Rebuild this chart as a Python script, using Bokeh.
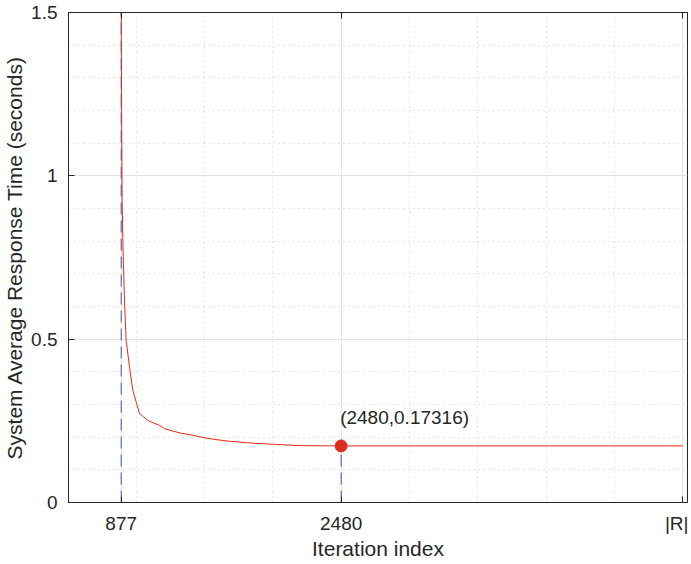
from bokeh.plotting import figure
from bokeh.models import Range1d, FixedTicker, LinearAxis
from bokeh.core.properties import value
from bokeh.embed import file_html
from bokeh.resources import INLINE

# ---- data ----
iters = [877, 880, 884, 890, 901, 913, 938, 962, 1010, 1040, 1071, 1110, 1156, 1193,
         1250, 1314, 1387, 1484, 1560, 1655, 1740, 1825, 1995, 2189, 2350, 2480, 4970]
resp = [1.55, 1.2, 0.92, 0.78, 0.618, 0.496, 0.414, 0.343, 0.273, 0.262, 0.251, 0.244,
        0.236, 0.226, 0.219, 0.212, 0.207, 0.198, 0.193, 0.188, 0.185, 0.182, 0.178,
        0.174, 0.1735, 0.17316, 0.17316]
first_iter = 877
best_iter = 2480
best_val = 0.17316
R_size = 4970
x_tick_labels = {877: "877", 2480: "2480", 4970: "|R|"}
y_ticks = [0, 0.5, 1, 1.5]
y_tick_labels = {0: "0", 0.5: "0.5", 1: "1", 1.5: "1.5"}
x_minor = [986, 1484, 1982, 2978, 3476, 3974, 4472]
y_minor = [0.1, 0.2, 0.3, 0.4, 0.6, 0.7, 0.8, 0.9, 1.1, 1.2, 1.3, 1.4]
y_min, y_max = 0, 1.5
x_min, x_max = 493, 5004

FONT = "Liberation Sans"
AX = "#262626"

p = figure(width=688, height=562, output_backend="svg", toolbar_location=None,
           x_range=Range1d(x_min, x_max), y_range=Range1d(y_min, y_max),
           min_border_left=67, min_border_right=1, min_border_top=12, min_border_bottom=60)
p.background_fill_color = "white"
p.border_fill_color = "white"
p.outline_line_color = AX
p.outline_line_width = 1

xt = FixedTicker(ticks=[first_iter, best_iter, R_size], minor_ticks=x_minor)
yt = FixedTicker(ticks=y_ticks, minor_ticks=y_minor)

for ax in (p.xaxis[0], p.yaxis[0]):
    ax.axis_line_color = AX
    ax.major_tick_line_color = AX
    ax.major_tick_in = 6
    ax.major_tick_out = 0
    ax.minor_tick_line_color = None
    ax.major_label_text_font = FONT
    ax.major_label_text_font_size = "19px"
    ax.major_label_text_color = "#262626"
    ax.axis_label_text_font = FONT
    ax.axis_label_text_font_size = "21px"
    ax.axis_label_text_font_style = "normal"
    ax.axis_label_text_color = "#262626"

p.xaxis.ticker = xt
p.xaxis.major_label_overrides = x_tick_labels
p.xaxis.major_label_standoff = 6
p.xaxis.axis_label = "Iteration index"
p.xaxis.axis_label_standoff = 0

p.yaxis.ticker = yt
p.yaxis.major_label_overrides = y_tick_labels
p.yaxis.major_label_standoff = 7
p.yaxis.axis_label = "System Average Response Time (seconds)"
p.yaxis.axis_label_standoff = 2

# top axis: inward ticks only (box style)
top_ax = LinearAxis(ticker=FixedTicker(ticks=[first_iter, best_iter, R_size]),
                    major_label_overrides={first_iter: "", best_iter: "", R_size: ""},
                    major_label_text_font_size="1px", major_label_standoff=0,
                    axis_line_color=AX, major_tick_line_color=AX,
                    major_tick_in=6, major_tick_out=0, minor_tick_line_color=None)
p.add_layout(top_ax, "above")

# grids
p.xgrid.ticker = xt
p.ygrid.ticker = yt
for g in (p.xgrid[0], p.ygrid[0]):
    g.grid_line_color = "#e3e3e3"
    g.grid_line_width = 1
    g.minor_grid_line_color = "#cfcfcf"
    g.minor_grid_line_dash = "1 4"
    g.minor_grid_line_width = 1

# dashed reference lines
p.segment(x0=[first_iter, best_iter], y0=[y_min, y_min],
          x1=[first_iter, best_iter], y1=[y_max, best_val],
          line_color="#3c54b4", line_width=1, line_dash="12 6")

# curve
p.line(iters, resp, line_color="#e8291c", line_width=1)
p.scatter([best_iter], [best_val], size=12, fill_color="#e02b20", line_color="#e02b20")
p.text(x=[best_iter], y=[best_val], text=["(%d,%s)" % (best_iter, best_val)],
       text_font=value(FONT), text_font_size="19px", text_color="#262626",
       text_align="left", text_baseline="alphabetic", x_offset=-1, y_offset=-28)

open("out.html", "w").write(file_html(p, INLINE))
